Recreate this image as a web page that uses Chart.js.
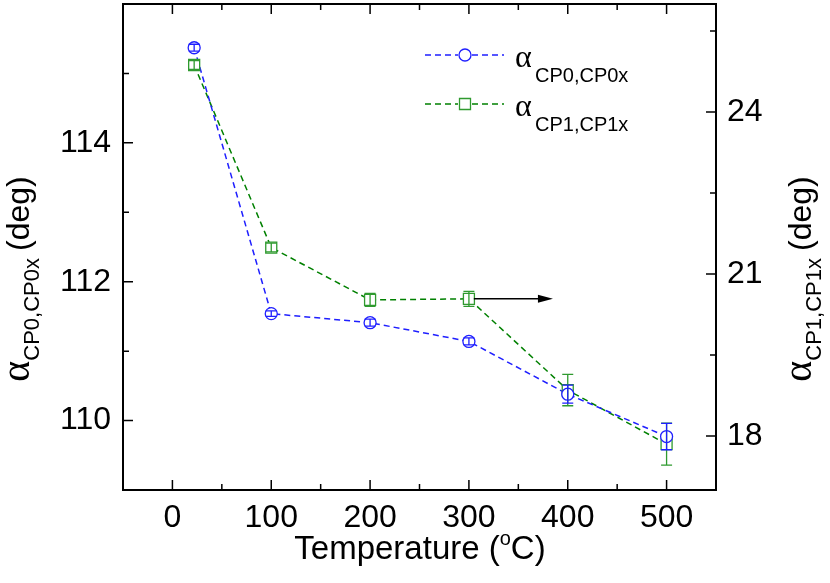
<!DOCTYPE html>
<html>
<head>
<meta charset="utf-8">
<script src="https://cdn.jsdelivr.net/npm/chart.js@4.4.0/dist/chart.umd.min.js"></script>
<style>
  html, body { margin: 0; padding: 0; background: #fff; }
  #wrap { width: 830px; height: 583px; position: relative; }
</style>
</head>
<body>
<div id="wrap"><canvas id="c" width="830" height="583"></canvas></div>
<script>
// ---- data ----
const temps = [22, 100, 200, 300, 400, 500];
const alphaCP0 = [115.37, 111.54, 111.41, 111.14, 110.38, 109.77];
const alphaCP0Err = [0.05, 0.04, 0.05, 0.05, 0.13, 0.19];
const alphaCP1 = [24.87, 21.49, 20.52, 20.54, 18.85, 17.85];
const alphaCP1Err = [0.08, 0.08, 0.12, 0.14, 0.29, 0.39];

const xTicks = [0, 100, 200, 300, 400, 500];
const xMinorTicks = [-50, 50, 150, 250, 350, 450, 550];
const leftTicks = [110, 112, 114];
const leftMinorTicks = [109, 111, 113, 115, 116];
const rightTicks = [18, 21, 24];
const rightMinorTicks = [19.5, 22.5, 25.5];

const xRange = [-50, 550];
const leftRange = [109, 116];
const rightRange = [17, 26];

const arrowFrom = [305, 20.54];
const arrowTo = [385, 20.54];

const BLUE = '#1f1fff';
const GREEN_LINE = '#008000';
const GREEN = '#2f9a2f';
const SANS = '"Liberation Sans", Arial, sans-serif';
const SERIF = '"Liberation Serif", "Times New Roman", serif';

function drawRich(ctx, parts, cx, cy, rot) {
  ctx.save();
  ctx.translate(cx, cy);
  ctx.rotate(rot);
  ctx.textBaseline = 'alphabetic';
  ctx.textAlign = 'left';
  let total = 0;
  parts.forEach(p => { ctx.font = p.font; p.w = ctx.measureText(p.text).width; total += p.w + (p.gap || 0); });
  let x = -total / 2;
  parts.forEach(p => {
    ctx.font = p.font;
    ctx.fillStyle = '#000';
    ctx.fillText(p.text, x, p.dy || 0);
    x += p.w + (p.gap || 0);
  });
  ctx.restore();
}

function drawMarker(ctx, style, x, y, color) {
  ctx.save();
  ctx.setLineDash([]);
  ctx.strokeStyle = color;
  ctx.fillStyle = '#fff';
  ctx.lineWidth = 1.3;
  ctx.beginPath();
  if (style === 'circle') ctx.arc(x, y, 6, 0, Math.PI * 2);
  else ctx.rect(x - 5.5, y - 5.5, 11, 11);
  ctx.fill();
  ctx.stroke();
  ctx.restore();
}

const decoPlugin = {
  id: 'deco',
  afterDatasetsDraw(chart) {
    const ctx = chart.ctx;
    const xs = chart.scales.x, yl = chart.scales.y, yr = chart.scales.y1;
    const sets = [
      [yr, alphaCP1, alphaCP1Err, GREEN, 'rect'],
      [yl, alphaCP0, alphaCP0Err, BLUE, 'circle']
    ];
    ctx.save();
    sets.forEach(([ys, vals, errs, col, style]) => {
      vals.forEach((v, i) => {
        const px = xs.getPixelForValue(temps[i]);
        drawMarker(ctx, style, px, ys.getPixelForValue(v), col);
      });
    });
    ctx.setLineDash([]);
    ctx.lineWidth = 1.3;
    sets.forEach(([ys, vals, errs, col]) => {
      ctx.strokeStyle = col;
      vals.forEach((v, i) => {
        const px = xs.getPixelForValue(temps[i]);
        const t = ys.getPixelForValue(v + errs[i]);
        const b = ys.getPixelForValue(v - errs[i]);
        ctx.beginPath();
        ctx.moveTo(px, t); ctx.lineTo(px, b);
        ctx.moveTo(px - 5.5, t); ctx.lineTo(px + 5.5, t);
        ctx.moveTo(px - 5.5, b); ctx.lineTo(px + 5.5, b);
        ctx.stroke();
      });
    });
    const ax0 = xs.getPixelForValue(arrowFrom[0]), ay = yr.getPixelForValue(arrowFrom[1]);
    const ax1 = xs.getPixelForValue(arrowTo[0]);
    ctx.strokeStyle = '#000'; ctx.fillStyle = '#000'; ctx.lineWidth = 1.5;
    ctx.beginPath(); ctx.moveTo(ax0, ay); ctx.lineTo(ax1 - 12, ay); ctx.stroke();
    ctx.beginPath(); ctx.moveTo(ax1, ay); ctx.lineTo(ax1 - 15, ay - 4); ctx.lineTo(ax1 - 15, ay + 4); ctx.closePath(); ctx.fill();
    ctx.restore();
  },
  afterDraw(chart) {
    const ctx = chart.ctx;
    const a = chart.chartArea;
    const xs = chart.scales.x, yl = chart.scales.y, yr = chart.scales.y1;
    ctx.save();
    ctx.setLineDash([]);
    ctx.strokeStyle = '#000';
    ctx.lineWidth = 2;
    ctx.strokeRect(a.left, a.top, a.right - a.left, a.bottom - a.top);
    ctx.lineWidth = 1.5;
    ctx.beginPath();
    const MAJ = 10, MIN = 6;
    xTicks.forEach(v => { const p = xs.getPixelForValue(v); ctx.moveTo(p, a.bottom); ctx.lineTo(p, a.bottom - MAJ); ctx.moveTo(p, a.top); ctx.lineTo(p, a.top + MAJ); });
    xMinorTicks.forEach(v => { const p = xs.getPixelForValue(v); ctx.moveTo(p, a.bottom); ctx.lineTo(p, a.bottom - MIN); ctx.moveTo(p, a.top); ctx.lineTo(p, a.top + MIN); });
    leftTicks.forEach(v => { const p = yl.getPixelForValue(v); ctx.moveTo(a.left, p); ctx.lineTo(a.left + MAJ, p); });
    leftMinorTicks.forEach(v => { const p = yl.getPixelForValue(v); ctx.moveTo(a.left, p); ctx.lineTo(a.left + MIN, p); });
    rightTicks.forEach(v => { const p = yr.getPixelForValue(v); ctx.moveTo(a.right, p); ctx.lineTo(a.right - MAJ, p); });
    rightMinorTicks.forEach(v => { const p = yr.getPixelForValue(v); ctx.moveTo(a.right, p); ctx.lineTo(a.right - MIN, p); });
    ctx.stroke();

    // legend
    const legendItems = [
      { y: 55, color: BLUE, style: 'circle', sub: 'CP0,CP0x' },
      { y: 104, color: GREEN, lineColor: GREEN_LINE, style: 'rect', sub: 'CP1,CP1x' }
    ];
    legendItems.forEach(it => {
      ctx.save();
      ctx.strokeStyle = it.lineColor || it.color;
      ctx.lineWidth = 1.5;
      ctx.setLineDash([6, 4]);
      ctx.beginPath(); ctx.moveTo(425, it.y); ctx.lineTo(458, it.y); ctx.stroke();
      ctx.beginPath(); ctx.moveTo(472, it.y); ctx.lineTo(504, it.y); ctx.stroke();
      ctx.restore();
      drawMarker(ctx, it.style, 465, it.y, it.color);
      ctx.save();
      ctx.fillStyle = '#000';
      ctx.textBaseline = 'alphabetic';
      ctx.textAlign = 'left';
      ctx.font = '32px ' + SERIF;
      ctx.fillText('α', 515, it.y + 12);
      ctx.font = '20px ' + SANS;
      ctx.fillText(it.sub, 535, it.y + 27);
      ctx.restore();
    });

    // axis titles
    const cy = 279;
    drawRich(ctx, [
      { text: 'α', font: '40px ' + SERIF },
      { text: 'CP0,CP0x', font: '22px ' + SANS, dy: 10, gap: 7 },
      { text: '(deg)', font: '32px ' + SANS }
    ], 29, cy, -Math.PI / 2);
    drawRich(ctx, [
      { text: 'α', font: '40px ' + SERIF },
      { text: 'CP1,CP1x', font: '22px ' + SANS, dy: 10, gap: 7 },
      { text: '(deg)', font: '32px ' + SANS }
    ], 811, cy, -Math.PI / 2);
    drawRich(ctx, [
      { text: 'Temperature (', font: '33px ' + SANS },
      { text: 'o', font: '20px ' + SANS, dy: -14 },
      { text: 'C)', font: '33px ' + SANS }
    ], 420, 559, 0);
    ctx.restore();
  }
};

function fixTicks(list) {
  return function (scale) { scale.ticks = list.map(v => ({ value: v })); };
}

const chart = new Chart(document.getElementById('c'), {
  type: 'line',
  data: {
    datasets: [
      {
        label: 'αCP0,CP0x',
        data: temps.map((t, i) => ({ x: t, y: alphaCP0[i] })),
        yAxisID: 'y',
        borderColor: BLUE,
        borderWidth: 1.5,
        borderDash: [6, 4],
        pointRadius: 0,
        pointHoverRadius: 0,
        fill: false,
        tension: 0
      },
      {
        label: 'αCP1,CP1x',
        data: temps.map((t, i) => ({ x: t, y: alphaCP1[i] })),
        yAxisID: 'y1',
        borderColor: GREEN_LINE,
        borderWidth: 1.5,
        borderDash: [6, 4],
        pointRadius: 0,
        pointHoverRadius: 0,
        fill: false,
        tension: 0
      }
    ]
  },
  options: {
    responsive: false,
    animation: false,
    devicePixelRatio: 1,
    layout: { padding: { top: 4, left: 0, right: 0, bottom: 0 } },
    plugins: { legend: { display: false }, tooltip: { enabled: false } },
    scales: {
      x: {
        type: 'linear', min: xRange[0], max: xRange[1],
        afterBuildTicks: fixTicks(xTicks),
        afterFit(s) { s.height = 93; s.paddingLeft = 0; s.paddingRight = 0; },
        grid: { display: false, drawTicks: false },
        border: { display: false },
        ticks: { font: { size: 32, family: SANS }, color: '#000', padding: 9, maxRotation: 0, autoSkip: false }
      },
      y: {
        type: 'linear', position: 'left', min: leftRange[0], max: leftRange[1],
        afterBuildTicks: fixTicks(leftTicks),
        afterFit(s) { s.width = 123; s.paddingTop = 0; s.paddingBottom = 0; },
        grid: { display: false, drawTicks: false },
        border: { display: false },
        ticks: { font: { size: 32, family: SANS }, color: '#000', padding: 12, autoSkip: false }
      },
      y1: {
        type: 'linear', position: 'right', min: rightRange[0], max: rightRange[1],
        afterBuildTicks: fixTicks(rightTicks),
        afterFit(s) { s.width = 114; s.paddingTop = 0; s.paddingBottom = 0; },
        grid: { display: false, drawTicks: false },
        border: { display: false },
        ticks: { font: { size: 32, family: SANS }, color: '#000', padding: 11, autoSkip: false }
      }
    }
  },
  plugins: [decoPlugin]
});
</script>
</body>
</html>
